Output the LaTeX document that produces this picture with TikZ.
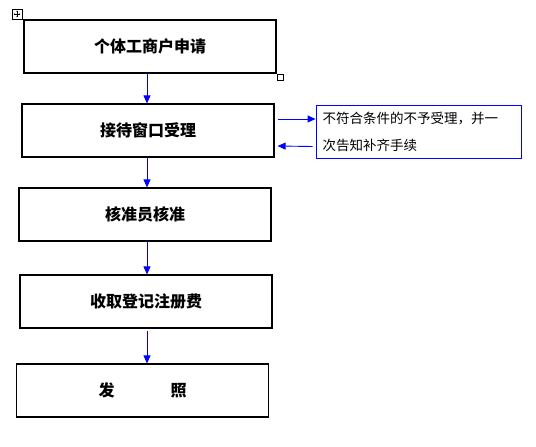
\documentclass[tikz,border=0pt]{standalone}
\usepackage{fontspec}
\setmainfont{Noto Sans CJK SC}
\usepackage{tikz}
\usetikzlibrary{arrows.meta}

\begin{document}
\begin{tikzpicture}[x=1pt,y=-1pt,
    stepbox/.style={draw,line width=1.2pt,minimum width=252pt,minimum height=53pt,inner sep=0pt,font=\fontsize{16}{18}\selectfont\bfseries},
    notebox/.style={draw=blue,line width=0.9pt,minimum width=205pt,minimum height=53pt,inner sep=0pt,text width=192pt,align=left,font=\fontsize{13.5}{27}\selectfont},
    flow/.style={draw=blue,line width=0.9pt,-{Triangle[length=8pt,width=7pt]}}]
    \useasboundingbox (0,0) rectangle (536,447);
    %steps
    \node[stepbox] (b1) at (150,46.5) {个体工商户申请};
    \node[stepbox] (b2) at (148,130.5) {接待窗口受理};
    \node[stepbox] (b3) at (145,214.5) {核准员核准};
    \node[stepbox] (b4) at (146,301.5) {收取登记注册费};
    \node[stepbox] (b5) at (142.5,390.5) {发\hspace{3.5em}照};
    \node[notebox] (n) at (418.5,131.5) {不符合条件的不予受理，并一\\次告知补齐手续};
    \coordinate (ax) at (147,0);
    \draw[flow] (b1.south -| ax) -- (b2.north -| ax);
    \draw[flow] (b2.south -| ax) -- (b3.north -| ax);
    \draw[flow] (b3.south -| ax) -- (b4.north -| ax);
    \draw[flow] ([yshift=-2pt]b4.south -| ax) -- (b5.north -| ax);
    \draw[flow] ([xshift=3pt,yshift=11.5pt]b2.east) -- ([yshift=12.5pt]n.west);
    \draw[flow] ([xshift=-3pt,yshift=-15pt]n.west) -- ([xshift=3pt,yshift=-15.5pt]b2.east);
    %handles
    \draw[line width=0.6pt] (12,9) rectangle (22,19);
    \draw[line width=0.5pt,-{Stealth[length=1.5pt]}] (17,14) -- (17,10.5);
    \draw[line width=0.5pt,-{Stealth[length=1.5pt]}] (17,14) -- (17,17.5);
    \draw[line width=0.5pt,-{Stealth[length=1.5pt]}] (17,14) -- (13.5,14);
    \draw[line width=0.5pt,-{Stealth[length=1.5pt]}] (17,14) -- (20.5,14);
    \draw[line width=0.6pt] (277,74) rectangle (283,80);
\end{tikzpicture}
\end{document}
